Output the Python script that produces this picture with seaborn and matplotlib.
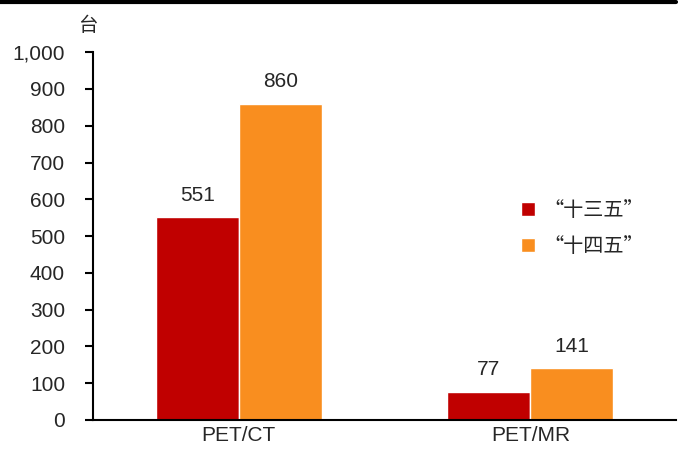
import pandas as pd
import seaborn as sns
import matplotlib.pyplot as plt
from matplotlib.lines import Line2D
from matplotlib.ticker import FuncFormatter

# Data
categories = ['PET/CT', 'PET/MR']
series_names = ['“十三五”', '“十四五”']
plan_13 = [551, 77]
plan_14 = [860, 141]
colors = ['#C00000', '#F98E1F']

df = pd.DataFrame({
    'cat': categories * 2,
    'plan': [series_names[0]] * 2 + [series_names[1]] * 2,
    'val': plan_13 + plan_14,
})

sns.set_style('white')
plt.rcParams['font.family'] = ['Liberation Sans', 'Noto Sans CJK SC', 'DejaVu Sans']

f = plt.figure(figsize=(6.83, 4.54), dpi=100)
a = f.add_axes([0.136, 0.075, 0.854, 0.81])
sns.barplot(x='cat', y='val', hue='plan', data=df, palette=colors,
            width=0.57, saturation=1, ax=a)

for c in a.containers:
    a.bar_label(c, fmt='%d', padding=9, fontsize=15)

a.set_ylim(0, 1000)
a.set_yticks(range(0, 1001, 100))
a.yaxis.set_major_formatter(FuncFormatter(lambda v, p: f'{int(v):,}'))
a.set_xlim(-0.5, 1.5)
a.set_xticks([0, 1])
a.set_xticklabels(categories)
a.set_xticks([-0.5, 0.5, 1.5], minor=True)
a.tick_params(axis='x', which='major', length=0, labelsize=15, pad=4)
a.tick_params(axis='x', which='minor', length=5, width=1.5, direction='out', color='black')
a.tick_params(axis='y', length=6, width=1.5, direction='out', color='black', labelsize=15, left=True, pad=14)
a.set_xlabel('')
a.set_ylabel('')
for s in ['top', 'right']:
    a.spines[s].set_visible(False)
for s in ['left', 'bottom']:
    a.spines[s].set_color('black')
    a.spines[s].set_linewidth(1.5)

a.text(-0.026, 1.045, '台', transform=a.transAxes, fontsize=14,
       family=['Noto Sans CJK SC'], ha='left', va='bottom')

leg = a.legend(loc='center left', bbox_to_anchor=(0.72, 0.52), frameon=False,
               handlelength=0.7, handleheight=0.7, handletextpad=0.4,
               labelspacing=0.75, fontsize=14.5, borderaxespad=0)
for t in leg.get_texts():
    t.set_family(['Noto Sans CJK SC', 'DejaVu Sans'])

f.add_artist(Line2D([0, 0.99], [0.995, 0.995], color='black', lw=3, transform=f.transFigure))

f.savefig('out.png', dpi=100)
